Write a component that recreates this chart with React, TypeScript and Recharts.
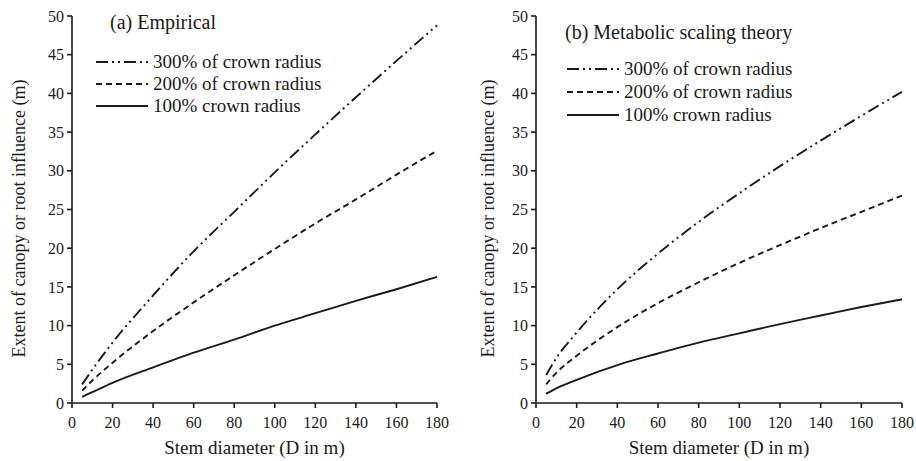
import React from "react";
import { LineChart, Line, XAxis, YAxis } from "recharts";

const stemDiameter = [5, 10, 20, 40, 60, 80, 100, 120, 140, 160, 180];

const empirical100 = [0.8, 1.4, 2.6, 4.6, 6.5, 8.2, 10.0, 11.6, 13.2, 14.7, 16.3];
const empirical200 = [1.6, 2.9, 5.2, 9.3, 13.0, 16.5, 19.9, 23.2, 26.3, 29.5, 32.6];
const empirical300 = [2.4, 4.3, 7.8, 13.9, 19.6, 24.7, 29.8, 34.7, 39.5, 44.2, 48.8];

const mst100 = [1.2, 1.9, 3.0, 4.9, 6.4, 7.8, 9.0, 10.2, 11.3, 12.4, 13.4];
const mst200 = [2.4, 3.9, 6.1, 9.8, 12.9, 15.6, 18.1, 20.4, 22.6, 24.7, 26.8];
const mst300 = [3.6, 5.8, 9.1, 14.7, 19.3, 23.4, 27.1, 30.6, 33.9, 37.1, 40.2];

const xTicks = [0, 20, 40, 60, 80, 100, 120, 140, 160, 180];
const yTicks = [0, 5, 10, 15, 20, 25, 30, 35, 40, 45, 50];

const seriesNames = ["300% of crown radius", "200% of crown radius", "100% crown radius"];
const dashes = ["12 4 2 4 2 4", "6 4", undefined];

const FONT = "'Liberation Serif', 'Times New Roman', serif";
const INK = "#1a1a1a";
const Y_LABEL = "Extent of canopy or root influence (m)";

function build(a: number[], b: number[], c: number[]) {
  return stemDiameter.map((d, i) => ({ d, r300: c[i], r200: b[i], r100: a[i] }));
}

const LegendBox = ({ title, titleDx, titleDy, rowY, rowGap, lineX }: any) => (
  <svg
    width={458}
    height={140}
    style={{ position: "absolute", left: 0, top: 0, pointerEvents: "none" }}
  >
    <text x={titleDx} y={titleDy} fontFamily={FONT} fontSize={20} fill={INK}>
      {title}
    </text>
    {seriesNames.map((n, i) => (
      <g key={n}>
        <line
          x1={lineX}
          x2={lineX + 52}
          y1={rowY + i * rowGap}
          y2={rowY + i * rowGap}
          stroke={INK}
          strokeWidth={1.8}
          strokeDasharray={dashes[i]}
        />
        <text
          x={lineX + 57}
          y={rowY + i * rowGap}
          dy="0.33em"
          fontFamily={FONT}
          fontSize={19}
          fill={INK}
        >
          {n}
        </text>
      </g>
    ))}
  </svg>
);

function Panel({ data, ml, mr, title, yLabelX, legendProps }: any) {
  const yLabel = (props: any) => {
    const vb = props.viewBox || {};
    const cy = (vb.y ?? 16) + (vb.height ?? 387) / 2 + 9;
    const cx = yLabelX;
    return (
      <text
        x={cx}
        y={cy}
        transform={`rotate(-90 ${cx} ${cy})`}
        textAnchor="middle"
        dominantBaseline="central"
        fontFamily={FONT}
        fontSize={18}
        fill={INK}
      >
        {Y_LABEL}
      </text>
    );
  };
  return (
    <div style={{ position: "relative", width: 458, height: 461, fontFamily: FONT }}>
      <LineChart
        width={458}
        height={461}
        data={data}
        margin={{ top: 16, right: mr, bottom: 0, left: ml }}
        style={{ fontFamily: FONT }}
      >
        <XAxis
          type="number"
          dataKey="d"
          domain={[0, 180]}
          ticks={xTicks}
          interval={0}
          tickSize={5}
          tickMargin={9}
          height={58}
          axisLine={{ stroke: INK, strokeWidth: 1.6 }}
          tickLine={{ stroke: INK, strokeWidth: 1.6 }}
          tick={{ fontFamily: FONT, fontSize: 16, fill: INK }}
          label={{
            value: "Stem diameter (D in m)",
            position: "insideBottom",
            offset: 7,
            fontFamily: FONT,
            fontSize: 19,
            fill: INK,
          }}
        />
        <YAxis
          type="number"
          domain={[0, 50]}
          ticks={yTicks}
          interval={0}
          width={72}
          tickSize={5}
          tickMargin={3}
          axisLine={{ stroke: INK, strokeWidth: 1.6 }}
          tickLine={{ stroke: INK, strokeWidth: 1.6 }}
          tick={{ fontFamily: FONT, fontSize: 16, fill: INK }}
          label={{ value: Y_LABEL, content: yLabel }}
        />
        <Line
          dataKey="r300"
          name={seriesNames[0]}
          type="monotone"
          stroke={INK}
          strokeWidth={1.9}
          strokeDasharray={dashes[0]}
          dot={false}
          isAnimationActive={false}
        />
        <Line
          dataKey="r200"
          name={seriesNames[1]}
          type="monotone"
          stroke={INK}
          strokeWidth={1.9}
          strokeDasharray={dashes[1]}
          dot={false}
          isAnimationActive={false}
        />
        <Line
          dataKey="r100"
          name={seriesNames[2]}
          type="monotone"
          stroke={INK}
          strokeWidth={1.9}
          dot={false}
          isAnimationActive={false}
        />
      </LineChart>
      <LegendBox title={title} {...legendProps} />
    </div>
  );
}

export default function App() {
  return (
    <div
      style={{
        position: "absolute",
        left: 0,
        top: 0,
        width: 916,
        height: 461,
        background: "#fff",
        display: "flex",
      }}
    >
      <Panel
        data={build(empirical100, empirical200, empirical300)}
        ml={0}
        mr={21}
        title="(a) Empirical"
        yLabelX={18.5}
        legendProps={{ titleDx: 110, titleDy: 29, rowY: 62, rowGap: 22, lineX: 96 }}
      />
      <Panel
        data={build(mst100, mst200, mst300)}
        ml={6}
        mr={14}
        title="(b) Metabolic scaling theory"
        yLabelX={29.5}
        legendProps={{ titleDx: 107, titleDy: 39, rowY: 69, rowGap: 23, lineX: 109 }}
      />
    </div>
  );
}
